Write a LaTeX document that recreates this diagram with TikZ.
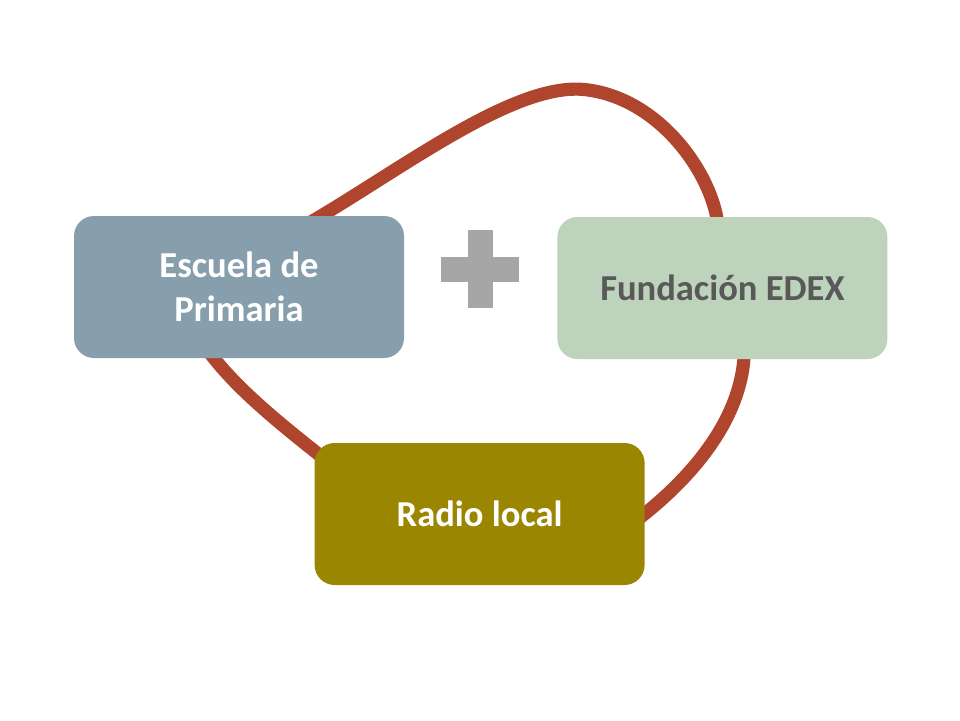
\documentclass[tikz,border=0pt]{standalone}
\usepackage{fontspec}
\setmainfont{Carlito}
\usepackage{tikz}
\pgfdeclarelayer{bg}
\pgfsetlayers{bg,main}
\definecolor{escblue}{HTML}{879FAC}
\definecolor{edexgreen}{HTML}{BDD3BB}
\definecolor{radioolive}{HTML}{9A8600}
\definecolor{ringred}{HTML}{B0452E}
\definecolor{plusgray}{HTML}{A6A6A6}
\definecolor{textgray}{HTML}{595959}
\tikzset{
    box/.style={rectangle, rounded corners=0.5cm, minimum width=8.25cm, minimum height=3.55cm,
        align=center, font=\bfseries\fontsize{26}{31}\selectfont, text=white},
    ring/.style={line width=0.33cm, color=ringred}
}

\begin{document}
\begin{tikzpicture}
        \useasboundingbox (0,0) rectangle (24,18);
        \node (esc) [box, fill=escblue] at (5.975cm, 10.825cm) {Escuela de\\Primaria};
        \node (edex) [box, fill=edexgreen, text=textgray] at (18.06cm, 10.8cm) {Fundación EDEX};
        \node (radio) [box, fill=radioolive] at (11.99cm, 5.15cm) {Radio local};
        \coordinate (top) at (14.625cm, 15.76cm);
        % plus sign
        \fill [plusgray] (11.025,10.9625) rectangle (12.975,11.5875);
        \fill [plusgray] (11.6875,10.3) rectangle (12.3125,12.25);
        \begin{pgfonlayer}{bg}
                \draw [ring] ([xshift=1.55cm, yshift=-0.3cm]esc.north) .. controls +(2.375,1.35) and +(-1.8,0.2) .. (top)
                        .. controls +(1.9,-0.21) and +(-0.1,1.3) .. ([xshift=-0.1cm, yshift=-0.3cm]edex.north);
                \draw [ring] ([xshift=0.55cm, yshift=0.3cm]edex.south) .. controls +(0,-1.8) and +(1.3,1.0) .. ([xshift=-0.2cm, yshift=-0.15cm]radio.east);
                \draw [ring] ([xshift=-0.85cm, yshift=0.3cm]esc.south) .. controls +(0.7,-1.0) and +(-1.4,1.1) .. ([xshift=0.5cm, yshift=-0.6cm]radio.north west);
        \end{pgfonlayer}
\end{tikzpicture}
\end{document}
